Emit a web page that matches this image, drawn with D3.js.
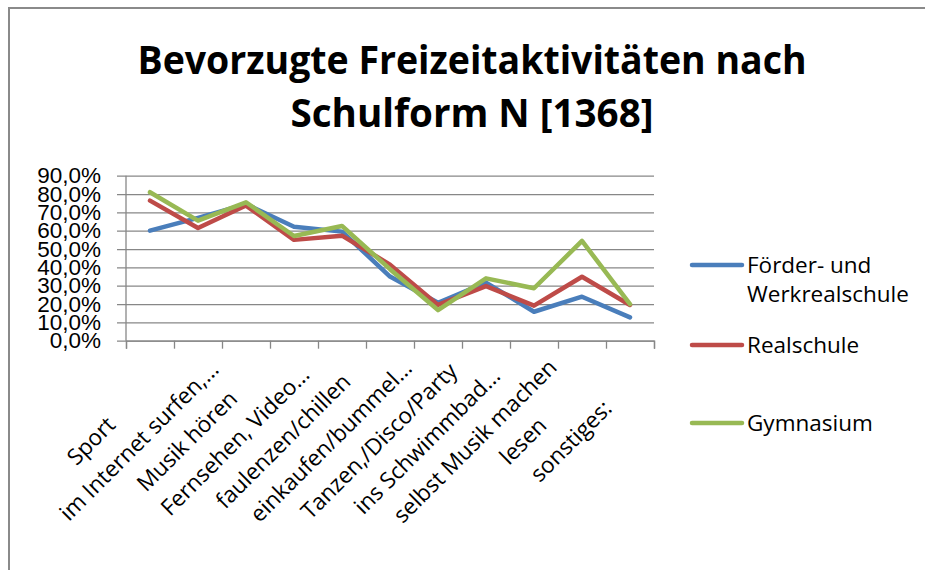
<!DOCTYPE html>
<html>
<head>
<meta charset="utf-8">
<script src="https://cdn.jsdelivr.net/npm/d3@7/dist/d3.min.js"></script>
<style>
	body { margin: 0; background: #fff; }
	svg { display: block; font-family: "Open Sans", "Noto Sans", sans-serif; }
	.axis text { font-size: 22.5px; fill: #000; }
</style>
</head>
<body>
<svg width="925" height="570"></svg>
<script>
var categories = ["Sport", "im Internet surfen,…", "Musik hören", "Fernsehen, Video…", "faulenzen/chillen",
	"einkaufen/bummel…", "Tanzen,/Disco/Party", "ins Schwimmbad…", "selbst Musik machen", "lesen", "sonstiges:"];

// values in percent
var foerder = [60.0, 67.0, 74.5, 62.2, 59.5, 35.0, 20.7, 31.7, 15.8, 24.0, 12.7];
var realschule = [76.4, 61.5, 73.7, 55.0, 57.3, 41.5, 19.5, 29.8, 19.1, 34.9, 19.5];
var gymnasium = [81.0, 65.5, 75.5, 57.1, 62.6, 39.0, 16.7, 34.0, 28.6, 54.4, 20.0];

var seriesNames = [["Förder- und", "Werkrealschule"], ["Realschule"], ["Gymnasium"]];
var yTicks = [0, 10, 20, 30, 40, 50, 60, 70, 80, 90];
var titleLines = ["Bevorzugte Freizeitaktivitäten nach", "Schulform N [1368]"];

var colors = ["#4a7ebb", "#be4b48", "#98b954"];
var series = [foerder, realschule, gymnasium];

var svg = d3.select("svg");
var svgWidth = +svg.attr("width");

var margin = { top: 175.7, left: 126, right: 271, bottom: 229.3 },
	width = svgWidth - margin.left - margin.right,
	height = +svg.attr("height") - margin.top - margin.bottom;

var de = d3.formatLocale({ decimal: ",", thousands: ".", grouping: [3], currency: ["", " €"] });
var fmt = de.format(".1f");

// chart area border
svg.append("rect")
	.attr("x", 9)
	.attr("y", 8)
	.attr("width", svgWidth + 20)
	.attr("height", 600)
	.attr("fill", "none")
	.attr("stroke", "#8a8a8a")
	.attr("stroke-width", 2);

// title
svg.selectAll(".title")
	.data(titleLines)
	.enter().append("text")
		.attr("class", "title")
		.attr("x", 472)
		.attr("y", function (d, i) { return 73.5 + i * 53.3; })
		.attr("text-anchor", "middle")
		.attr("textLength", function (d, i) { return i == 0 ? 669 : 363; })
		.attr("lengthAdjust", "spacingAndGlyphs")
		.style("font-size", "40px")
		.style("font-weight", "bold")
		.text(function (d) { return d; });

var g = svg.append("g")
	.attr("transform", "translate(" + margin.left + "," + margin.top + ")");

var xScale = d3.scaleBand()
	.domain(categories)
	.range([0, width]);

var xTickScale = d3.scaleLinear()
	.domain([0, categories.length])
	.range([0, width]);

var yScale = d3.scaleLinear()
	.domain([0, 90])
	.range([height, 0]);

// gridlines + y labels in one axis, hung from the right edge
var tickLen = 9;
g.append("g")
	.attr("class", "y axis")
	.attr("transform", "translate(" + width + ",0)")
	.call(d3.axisLeft(yScale)
		.tickValues(yTicks)
		.tickSize(width + tickLen)
		.tickPadding(16)
		.tickFormat(function (d) { return fmt(d) + "%"; }))
	.call(function (a) {
		a.select(".domain").remove();
		a.selectAll("line").attr("stroke", "#878787").attr("stroke-width", 1.3);
	});

// vertical axis line
g.append("line")
	.attr("x1", 0).attr("x2", 0)
	.attr("y1", 0).attr("y2", height)
	.attr("stroke", "#878787")
	.attr("stroke-width", 1.3);

// category axis ticks between categories
g.append("g")
	.attr("class", "x axis")
	.attr("transform", "translate(0," + height + ")")
	.call(d3.axisBottom(xTickScale)
		.tickValues(d3.range(categories.length + 1))
		.tickSize(8)
		.tickFormat(""))
	.call(function (a) {
		a.select(".domain").attr("stroke", "#878787").attr("stroke-width", 1.3);
		a.selectAll("line").attr("stroke", "#878787").attr("stroke-width", 1.3);
	});

// rotated category labels, centred along a 45 degree line
g.selectAll(".xlabel")
	.data(categories)
	.enter().append("text")
		.attr("class", "xlabel")
		.attr("text-anchor", "middle")
		.attr("dominant-baseline", "central")
		.attr("transform", function (d) {
			var cx = xScale(d) + xScale.bandwidth() / 2 - 59.5;
			return "translate(" + cx + "," + (height + 99.8) + ") rotate(-45)";
		})
		.style("font-size", "22.5px")
		.text(function (d) { return d; });

var line = d3.line()
	.x(function (d, i) { return xScale(categories[i]) + xScale.bandwidth() / 2; })
	.y(function (d) { return yScale(d); });

g.selectAll(".series")
	.data(series)
	.enter().append("path")
		.attr("class", "series")
		.attr("fill", "none")
		.attr("stroke", function (d, i) { return colors[i]; })
		.attr("stroke-width", 4.5)
		.attr("stroke-linejoin", "round")
		.attr("stroke-linecap", "round")
		.attr("d", line);

// legend
var legendY = [265, 345, 423];
var legend = svg.selectAll(".legend")
	.data(seriesNames)
	.enter().append("g")
		.attr("class", "legend")
		.attr("transform", function (d, i) { return "translate(692," + legendY[i] + ")"; });

legend.append("line")
	.attr("x1", 0).attr("x2", 50)
	.attr("stroke", function (d, i) { return colors[i]; })
	.attr("stroke-width", 4.5)
	.attr("stroke-linecap", "round");

legend.append("text")
	.attr("x", 55)
	.attr("y", 8)
	.style("font-size", "22.5px")
	.selectAll("tspan")
	.data(function (d) { return d; })
	.enter().append("tspan")
		.attr("x", 55)
		.attr("dy", function (d, i) { return i == 0 ? 0 : 29; })
		.text(function (d) { return d; });
</script>
</body>
</html>
